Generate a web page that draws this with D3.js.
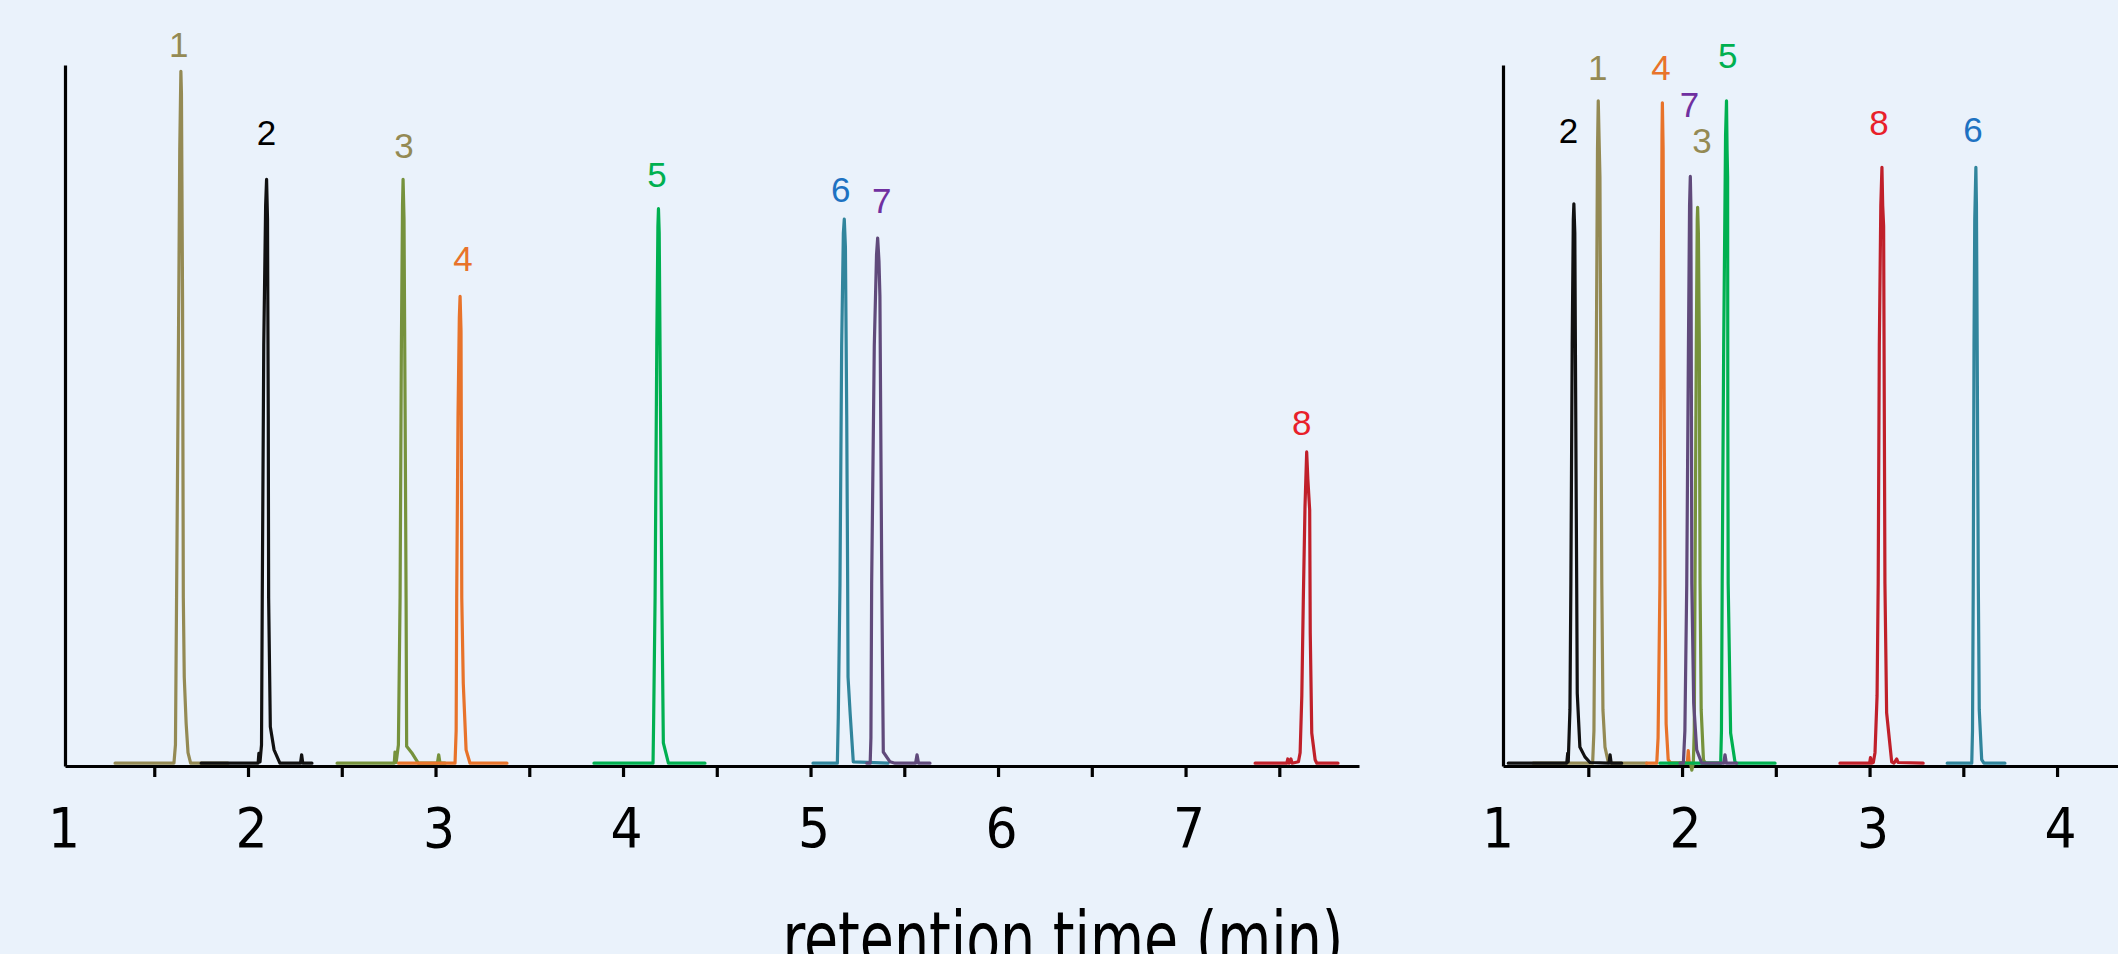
<!DOCTYPE html>
<html lang="en">
<head>
<meta charset="UTF-8">
<title>Chromatograms</title>
<script src="https://d3js.org/d3.v7.min.js"></script>
<style>
  body { margin: 0; background: #eaf2fb; }
  svg { display: block; background: #eaf2fb; }
  .axis path, .axis line { stroke: #000; stroke-width: 3.2; }
  .axis text {
    font-family: "Liberation Sans Narrow", "DejaVu Sans Condensed", sans-serif;
    font-size: 56px;
    fill: #000;
  }
  .trace { fill: none; stroke-width: 3.2; stroke-linejoin: round; stroke-linecap: round; }
  .peak-label { font-family: "Liberation Sans", Arial, sans-serif; font-size: 35px; text-anchor: middle; }
  .title {
    font-family: "Liberation Sans Narrow", "DejaVu Sans Condensed", sans-serif;
    font-size: 74px;
    text-anchor: middle;
  }
</style>
</head>
<body>
<svg id="chart" width="2118" height="954"></svg>
<script>
// peak names (compound numbers)
const peakNames = ["1", "2", "3", "4", "5", "6", "7", "8"];

// left chromatogram: [retention time (min), intensity (% of full scale)]
const left1 = [[1.291,0.4],[1.605,0.4],[1.613,3],[1.619,24],[1.627,52],[1.636,88],[1.642,99.1],[1.645,96],[1.651,66],[1.655,24],[1.660,12.7],[1.670,6.1],[1.680,1.9],[1.694,0.4],[1.893,0.4]];
const left2 = [[1.750,0.4],[2.054,0.4],[2.058,1.8],[2.064,0.6],[2.072,3],[2.076,24],[2.084,60],[2.094,80],[2.099,83.7],[2.104,78],[2.108,50],[2.110,24],[2.119,5.6],[2.139,2.3],[2.170,0.4],[2.280,0.4],[2.286,1.6],[2.292,0.4],[2.341,0.4]];
const left3 = [[2.475,0.4],[2.780,0.4],[2.784,2],[2.790,0.5],[2.802,3],[2.811,24],[2.818,60],[2.824,80],[2.827,83.7],[2.832,78],[2.838,50],[2.843,24],[2.846,2.8],[2.873,1.9],[2.908,0.4],[3.010,0.4],[3.017,1.6],[3.024,0.4],[3.051,0.4]];
const left4 = [[2.803,0.4],[3.104,0.4],[3.110,5],[3.113,24],[3.120,50],[3.127,64],[3.131,67],[3.136,62],[3.140,24],[3.148,11.8],[3.163,2.3],[3.184,0.4],[3.381,0.4]];
const left5 = [[3.845,0.4],[4.160,0.4],[4.163,6],[4.171,24],[4.180,60],[4.186,77],[4.189,79.5],[4.193,76],[4.200,50],[4.207,24],[4.215,3.3],[4.242,0.4],[4.437,0.4]];
const left6 = [[5.013,0.4],[5.143,0.4],[5.148,7],[5.157,26],[5.166,60],[5.175,76],[5.180,78],[5.186,74],[5.193,50],[5.198,26],[5.200,12.7],[5.211,7.6],[5.228,0.6],[5.413,0.4]];
const left7 = [[5.300,0.4],[5.318,0.4],[5.322,4],[5.326,26],[5.340,60],[5.352,73],[5.358,75.3],[5.365,72],[5.370,67],[5.380,26],[5.388,2],[5.424,0.6],[5.451,0.4],[5.560,0.4],[5.568,1.6],[5.576,0.4],[5.637,0.4]];
const left8 = [[7.371,0.4],[7.540,0.4],[7.545,1],[7.552,0.4],[7.562,1],[7.568,0.4],[7.602,0.6],[7.611,1.9],[7.620,10],[7.628,23.7],[7.637,37],[7.646,44.8],[7.652,41],[7.662,36.5],[7.665,19],[7.673,4.7],[7.691,0.9],[7.700,0.4],[7.813,0.4]];
// label anchor for each peak: [time, intensity]
const leftLabels = [[1.630,101.1],[2.099,88.6],[2.832,86.7],[3.147,70.6],[4.181,82.6],[5.161,80.5],[5.380,78.9],[7.620,47.2]];

// right chromatogram
const right1 = [[1.206,0.4],[1.523,0.4],[1.530,5],[1.535,26],[1.543,60],[1.549,88],[1.553,94.9],[1.557,90],[1.562,84],[1.568,50],[1.572,26],[1.578,8],[1.589,2.7],[1.606,0.6],[1.620,0.4],[1.811,0.4]];
const right2 = [[1.073,0.4],[1.385,0.4],[1.390,1.8],[1.393,0.6],[1.402,8],[1.407,26],[1.414,60],[1.420,78],[1.423,80.2],[1.428,76],[1.433,50],[1.438,26],[1.441,10.4],[1.455,2.7],[1.482,1.3],[1.509,0.5],[1.610,0.4],[1.616,1.6],[1.622,0.4],[1.678,0.4]];
const right3 = [[1.930,0.4],[2.045,0.4],[2.052,-0.6],[2.060,0.4],[2.065,5],[2.069,26],[2.076,60],[2.081,78],[2.083,79.7],[2.087,76],[2.092,60],[2.096,26],[2.102,8],[2.114,0.9],[2.125,0.4],[2.200,0.4]];
const right4 = [[1.811,0.4],[1.865,0.4],[1.872,4],[1.882,26],[1.888,60],[1.893,90],[1.895,94.6],[1.899,88],[1.903,60],[1.909,26],[1.915,6],[1.926,0.9],[1.940,0.4],[2.028,0.4],[2.033,2.2],[2.038,0.4],[2.045,0.4]];
const right5 = [[1.882,0.4],[2.206,0.4],[2.210,5],[2.214,26],[2.222,60],[2.232,90],[2.237,94.9],[2.240,88],[2.243,84],[2.244,50],[2.246,26],[2.259,4.7],[2.282,0.6],[2.290,0.4],[2.496,0.4]];
const right6 = [[3.414,0.4],[3.545,0.4],[3.549,5],[3.553,26],[3.557,60],[3.561,78],[3.567,85.4],[3.570,80],[3.574,60],[3.580,26],[3.585,8],[3.598,0.9],[3.610,0.4],[3.722,0.4]];
const right7 = [[1.989,0.4],[2.007,0.4],[2.015,5],[2.025,26],[2.034,60],[2.040,80],[2.044,84.1],[2.047,80],[2.050,50],[2.052,26],[2.062,9],[2.078,2.3],[2.105,0.4],[2.222,0.4],[2.229,1.6],[2.236,0.4],[2.291,0.4]];
const right8 = [[2.842,0.4],[3.000,0.4],[3.005,1.2],[3.010,0.4],[3.020,0.5],[3.029,1.9],[3.040,10],[3.046,26],[3.052,60],[3.060,80],[3.066,85.4],[3.070,80],[3.075,77],[3.082,26],[3.091,7.6],[3.118,0.6],[3.130,0.4],[3.145,1],[3.152,0.5],[3.286,0.4]];
const rightLabels = [[1.550,97.9],[1.394,88.9],[2.106,87.4],[1.887,97.9],[2.244,99.6],[3.551,89.0],[2.039,92.6],[3.050,90.0]];

// axis ticks and tick labels
const leftTicks = [1, 1.5, 2, 2.5, 3, 3.5, 4, 4.5, 5, 5.5, 6, 6.5, 7, 7.5];
const rightTicks = [1, 1.5, 2, 2.5, 3, 3.5, 4];
const axisTitle = "retention time (min)";

// colours
const traceColors = ["#948a54", "#111111", "#76923c", "#e8732a", "#00b050", "#31859c", "#604a7b", "#c0202a"];
const labelColors = ["#948a54", "#000000", "#948a54", "#e8732a", "#00b050", "#1e72c2", "#7030a0", "#e8202a"];

const svg = d3.select("#chart");
const baseY = 766, topY = 65;

const y = d3.scaleLinear().domain([0, 100]).range([baseY, topY]);

const panels = [
    {traces: [left1, left2, left3, left4, left5, left6, left7, left8], labels: leftLabels,
     ticks: leftTicks, domain: [1.024, 7.925], range: [65, 1359]},
    {traces: [right1, right2, right3, right4, right5, right6, right7, right8], labels: rightLabels,
     ticks: rightTicks, domain: [1.045, 4.325], range: [1503, 2118]}
];

panels.forEach(p => {
    const x = d3.scaleLinear().domain(p.domain).range(p.range);
    const g = svg.append("g");

    // y axis (line only)
    g.append("g")
        .attr("class", "axis")
        .attr("transform", `translate(${p.range[0]},0)`)
        .call(d3.axisLeft(y).tickValues([]).tickSizeOuter(0));

    // x axis
    const xAxis = g.append("g")
        .attr("class", "axis")
        .attr("transform", `translate(0,${baseY})`)
        .call(d3.axisBottom(x)
            .tickValues(p.ticks)
            .tickSize(11)
            .tickSizeOuter(0)
            .tickPadding(30)
            .tickFormat(d => Number.isInteger(d) ? d : ""));
    xAxis.selectAll(".tick line").filter(d => d < p.domain[0]).remove();
    xAxis.selectAll(".tick text").attr("dx", 3);

    const line = d3.line().x(d => x(d[0])).y(d => y(d[1]));

    // traces
    g.selectAll(".trace")
        .data(p.traces)
        .join("path")
        .attr("class", "trace")
        .attr("stroke", (d, i) => traceColors[i])
        .attr("d", line);

    // peak numbers
    g.selectAll(".peak-label")
        .data(p.labels)
        .join("text")
        .attr("class", "peak-label")
        .attr("x", d => x(d[0]))
        .attr("y", d => y(d[1]))
        .attr("fill", (d, i) => labelColors[i])
        .text((d, i) => peakNames[i]);
});

// axis title, cut by the bottom edge as in the original figure
svg.append("text")
    .attr("class", "title")
    .attr("x", 1063)
    .attr("y", 965)
    .attr("textLength", 561)
    .attr("lengthAdjust", "spacingAndGlyphs")
    .text(axisTitle);
</script>
</body>
</html>
